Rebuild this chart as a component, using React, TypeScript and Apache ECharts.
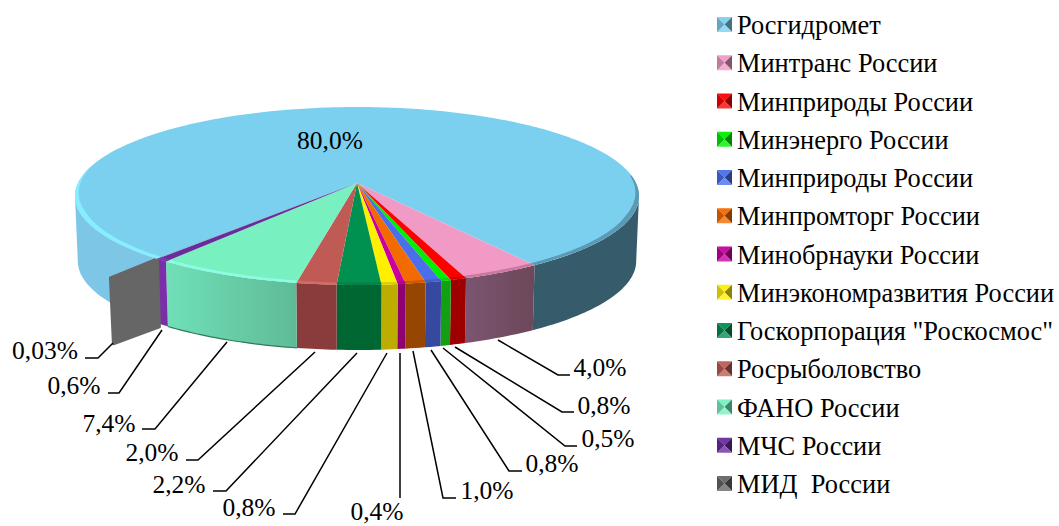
import React, { useEffect, useRef } from "react";
import * as echarts from "echarts";

const names = ["Росгидромет", "Минтранс России", "Минприроды России", "Минэнерго России", "Минприроды России", "Минпромторг России", "Минобрнауки России", "Минэкономразвития России", 'Госкорпорация "Роскосмос"', "Росрыболовство", "ФАНО России", "МЧС России", "МИД  России"];
const values = [80.0, 4.0, 0.8, 0.5, 0.8, 1.0, 0.4, 0.8, 2.2, 2.0, 7.4, 0.6, 0.03];
const topColors = ["#7BD0F0", "#F29AC6", "#FF0000", "#00EE00", "#4A6FE8", "#F26A00", "#C800A0", "#FFF000", "#009050", "#C05A55", "#78F0C0", "#6A2C9C", "#666666"];
const wallColors = ["#7DC6E6", "#7A5068", "#9E0000", "#12A012", "#35499E", "#964600", "#8F0070", "#BDAD00", "#006632", "#8A3C3C", "#66CCA6", "#7A2FA8", "#666666"];

// label layout: text centre, then leader line points
const labelLayout: { x: number; y: number; line: number[][] }[] = [
  { x: 330, y: 140, line: [] },
  { x: 600, y: 367, line: [[498, 340], [558, 375], [570, 375]] },
  { x: 604, y: 405, line: [[455, 347], [562, 412], [574, 412]] },
  { x: 608, y: 438, line: [[443, 348], [565, 446], [577, 446]] },
  { x: 552, y: 463, line: [[431, 350], [509, 471], [522, 471]] },
  { x: 487, y: 490, line: [[413, 351], [443, 498], [456, 498]] },
  { x: 377, y: 511, line: [[400, 353], [400, 498]] },
  { x: 249, y: 507, line: [[387, 353], [295, 514], [283, 514]] },
  { x: 179, y: 484, line: [[357, 353], [226, 491], [213, 491]] },
  { x: 152, y: 452, line: [[315, 352], [198, 460], [186, 460]] },
  { x: 109, y: 423, line: [[227, 342], [155, 429], [142, 429]] },
  { x: 74, y: 385, line: [[162, 330], [119, 393], [108, 393]] },
  { x: 45, y: 350, line: [[113, 343], [98, 358], [85, 358]] },
];

const FONT = '"Liberation Serif", "Times New Roman", serif';
const CX = 357, CY = 183, R = 279, RY = 87.1, K = 0.146, H = 65, BOTTOM_SCALE = 0.99;
const START_DEG = -230.5;
const SILHOUETTE = (Math.asin(K) * 180) / Math.PI;
const total = values.reduce((a, b) => a + b, 0);
const rad = (d: number) => (d * Math.PI) / 180;

const angles: number[][] = [];
{
  let a = START_DEG;
  values.forEach((v) => {
    const b = a + (v / total) * 360;
    angles.push([a, b]);
    a = b;
  });
}

function proj(deg: number, r = 1): number[] {
  const c = Math.cos(rad(deg)) * r, s = Math.sin(rad(deg)) * r;
  const w = 1 - K * s;
  return [CX + (R * c) / w, CY + (RY * s) / w];
}
function low(p: number[]): number[] {
  return [CX + (p[0] - CX) * BOTTOM_SCALE, p[1] + H];
}
function arc(a: number, b: number, r = 1): number[][] {
  const n = Math.max(2, Math.ceil(Math.abs(b - a) / 1));
  const out: number[][] = [];
  for (let i = 0; i <= n; i++) out.push(proj(a + ((b - a) * i) / n, r));
  return out;
}
function band(a: number, b: number, fill: any) {
  const up = arc(a, b);
  const down = up.map(low).reverse();
  return { type: "polygon", silent: true, shape: { points: up.concat(down) }, style: { fill } };
}
function rimStrip(a: number, b: number, fill: any, depth = 0.02) {
  const n = Math.max(2, Math.ceil(Math.abs(b - a)));
  const outer: number[][] = [], inner: number[][] = [];
  for (let i = 0; i <= n; i++) {
    const d = a + ((b - a) * i) / n;
    const s = Math.sin(rad(d));
    const f = Math.min(1, Math.max(0, (s + 0.25) / 0.6));
    outer.push(proj(d, 1));
    inner.push(proj(d, 1 - depth * f));
  }
  return { type: "polygon", silent: true, shape: { points: outer.concat(inner.reverse()) }, style: { fill } };
}
const hGrad = (a: string, b: string) =>
  new echarts.graphic.LinearGradient(0, 0, 1, 0, [{ offset: 0, color: a }, { offset: 1, color: b }]);

const rimColors = ["#86EEFF", "#C9789E", "#D80000", "#10D010", "#4260CC", "#CC5A00", "#AC0088", "#DDD000", "#0A7E48", "#D26C66", "#8CFCE4", "#7A38B0", "#6A6A6A"];

function renderWall(params: any) {
  const i = params.dataIndex;
  const [a, b] = angles[i];
  const children: any[] = [];
  if (i === 0) {
    children.push(band(a, -180 - SILHOUETTE, wallColors[0]));
    children.push(band(SILHOUETTE, b, "#365C6C"));
  } else if (i === 1) {
    children.push(band(a, b, hGrad("#7C5570", "#6C485A")));
  } else if (i === 10) {
    children.push(band(a, b, hGrad("#70E0B8", "#5FBB97")));
    children.push({ type: "polyline", silent: true, shape: { points: arc(a, b).map(low) }, style: { stroke: "#2F7A58", lineWidth: 1.2, fill: "none" } });
  } else if (i === 12) {
    const p = proj(a);
    const corner = [p[0] - 47, p[1] + 19];
    const pts = [p, corner, [corner[0] + 3, corner[1] + 66], [p[0] + 2, p[1] + 68]];
    children.push({ type: "polygon", silent: true, shape: { points: pts }, style: { fill: "#666666", stroke: "#666666", lineWidth: 3, lineJoin: "round" } });
  } else {
    children.push(band(a, b, wallColors[i]));
  }
  return { type: "group", children };
}

function renderTop(params: any) {
  const i = params.dataIndex;
  const [a, b] = angles[i];
  const pts = [[CX, CY]].concat(arc(a, b));
  const children: any[] = [{ type: "polygon", silent: true, shape: { points: pts }, style: { fill: topColors[i] } }];
  if (i === 0) {
    children.push(rimStrip(a, -170, "#86EEFF"));
    children.push(rimStrip(-5, b, "#5C9AB4"));
  } else if (i !== 12) {
    children.push(rimStrip(a, b, rimColors[i]));
  }
  return { type: "group", children };
}

function fmt(v: number) {
  const s = v < 0.1 ? v.toFixed(2) : v.toFixed(1);
  return s.replace(".", ",") + "%";
}

function renderLabel(params: any) {
  const i = params.dataIndex;
  const l = labelLayout[i];
  const children: any[] = [];
  if (l.line.length) {
    children.push({ type: "polyline", silent: true, shape: { points: l.line }, style: { stroke: "#000", lineWidth: 1.5, fill: "none" } });
  }
  children.push({
    type: "text", silent: true, x: l.x, y: l.y,
    style: { text: fmt(values[i]), fill: "#000", font: `25.5px ${FONT}`, textAlign: "center", textVerticalAlign: "middle" },
  });
  return { type: "group", children };
}

function shade(hex: string, f: number) {
  const n = parseInt(hex.slice(1), 16);
  const ch = [(n >> 16) & 255, (n >> 8) & 255, n & 255].map((c) => {
    const v = f >= 0 ? c + (255 - c) * f : c * (1 + f);
    return Math.round(v);
  });
  return `rgb(${ch[0]},${ch[1]},${ch[2]})`;
}

const LEG_X = 717, LEG_Y = 17, LEG_STEP = 38.25, ICON = 15;
function legendGraphics() {
  const out: any[] = [];
  names.forEach((name, i) => {
    const y = LEG_Y + i * LEG_STEP;
    const x = LEG_X;
    const c = topColors[i];
    const m = [x + ICON / 2, y + ICON / 2];
    const tl = [x, y], tr = [x + ICON, y], br = [x + ICON, y + ICON], bl = [x, y + ICON];
    const tri = (p: number[], q: number[], fill: string) => ({ type: "polygon", silent: true, shape: { points: [p, q, m] }, style: { fill } });
    out.push(tri(tl, tr, shade(c, 0.05)));
    out.push(tri(tr, br, shade(c, -0.45)));
    out.push(tri(br, bl, shade(c, 0.2)));
    out.push(tri(bl, tl, shade(c, -0.2)));
    out.push({
      type: "text", silent: true, x: 737, y: y + 8,
      style: { text: name, fill: "#000", font: `26.4px ${FONT}`, textAlign: "left", textVerticalAlign: "middle" },
    });
  });
  return out;
}

export default function App() {
  const ref = useRef<HTMLDivElement>(null);
  useEffect(() => {
    document.body.style.margin = "0";
    const chart = echarts.init(ref.current!, undefined, { renderer: "svg" });
    const data = values.map((v, i) => ({ name: names[i], value: v }));
    chart.setOption({
      animation: false,
      backgroundColor: "#ffffff",
      graphic: legendGraphics(),
      series: [
        { type: "custom", coordinateSystem: "none", z: 1, silent: true, clip: false, data, renderItem: renderWall },
        { type: "custom", coordinateSystem: "none", z: 2, silent: true, clip: false, data, renderItem: renderTop },
        { type: "custom", coordinateSystem: "none", z: 3, silent: true, clip: false, data, renderItem: renderLabel },
      ],
    });
    return () => chart.dispose();
  }, []);
  return <div ref={ref} style={{ width: 1059, height: 526 }} />;
}
